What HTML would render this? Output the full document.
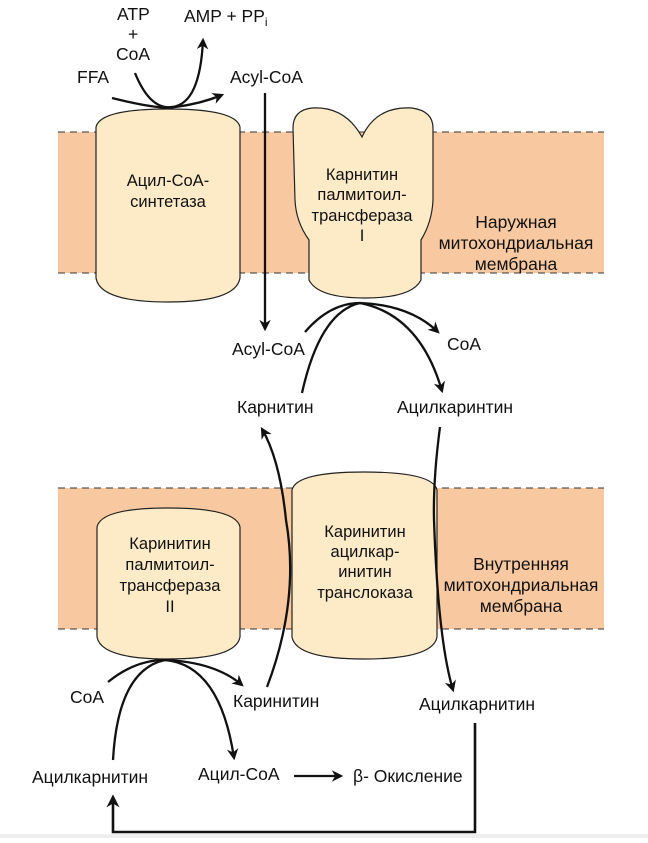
<!DOCTYPE html>
<html><head><meta charset="utf-8"><style>
body{margin:0;background:#fff}
svg text{font-family:"Liberation Sans",sans-serif;font-size:17.5px;fill:#111}
svg text.s{font-size:16.5px}
</style></head><body>
<svg width="648" height="838" viewBox="0 0 648 838" xmlns="http://www.w3.org/2000/svg">
<defs><marker id="a" viewBox="0 0 10 10" refX="8" refY="5" markerWidth="5" markerHeight="5" orient="auto"><path d="M0,0L10,5L0,10L3,5z" fill="#111"/></marker></defs>
<rect x="58" y="132" width="546" height="141" fill="#f8c9a0"/>
<rect x="58" y="488" width="546" height="141" fill="#f8c9a0"/>
<g stroke="#333" stroke-dasharray="7,5" stroke-width="1">
<line x1="58" y1="132" x2="604" y2="132"/><line x1="58" y1="273" x2="604" y2="273"/>
<line x1="58" y1="488" x2="604" y2="488"/><line x1="58" y1="629" x2="604" y2="629"/></g>
<rect x="0" y="834" width="648" height="4" fill="#eee"/>
<g fill="#fdebc8" stroke="#222" stroke-width="1.2">
<path d="M96,127 Q100,109 168,109 Q236,109 240,127 L240,278 Q236,302 168,302 Q100,302 96,278Z"/>
<path d="M293,128 Q293,110 312,108 Q345,106 362,137 Q376,106 412,108 Q433,111 433,128 L433,200 Q432,222 421,240 L421,280 Q412,298 365,298 Q318,298 309,280 L309,240 Q296,222 295,200Z"/>
<path d="M97,527 Q101,508 168,508 Q236,508 240,527 L240,637 Q236,659 168,659 Q101,659 97,637Z"/>
<path d="M292,490 Q296,472 364,472 Q433,472 437,490 L437,637 Q433,659 364,659 Q296,659 292,637Z"/>
</g>
<g fill="none" stroke="#111" stroke-width="2.3">
<path d="M112,98 Q160,110 175,107 Q200,104 222,95" marker-end="url(#a)"/>
<path d="M135,73 Q150,110 172,107 Q200,104 203,40" marker-end="url(#a)"/>
<path d="M265,93 L265,329" marker-end="url(#a)"/>
<path d="M305,332 Q330,303 360,303 Q410,305 438,332" marker-end="url(#a)"/>
<path d="M302,393 Q320,312 360,303 Q420,315 442,391" marker-end="url(#a)"/>
<path d="M267,687 Q300,600 286,520 Q280,460 262,429" marker-end="url(#a)"/>
<path d="M440,427 Q433,480 434,520 Q438,640 453,690" marker-end="url(#a)"/>
<path d="M108,682 Q135,660 165,660 Q215,662 242,685" marker-end="url(#a)"/>
<path d="M113,760 Q118,670 165,660 Q220,665 234,758" marker-end="url(#a)"/>
<path d="M294,776 L341,776" marker-end="url(#a)"/>
<path d="M475,723 L475,832 L113,832 L113,797" marker-end="url(#a)" stroke-width="2.6"/>
</g>
<text x="117" y="20">ATP</text><text x="128" y="40">+</text><text x="116" y="60">CoA</text>
<text x="184" y="22">AMP + PP<tspan font-size="12" dy="4">i</tspan></text>
<text x="77" y="83">FFA</text><text x="230" y="83">Acyl-CoA</text>
<text class="s" x="168" y="186" text-anchor="middle">Ацил-CoA-</text><text class="s" x="168" y="207" text-anchor="middle">синтетаза</text>
<text class="s" x="362" y="180" text-anchor="middle">Карнитин</text><text class="s" x="362" y="200" text-anchor="middle">палмитоил-</text><text class="s" x="362" y="221" text-anchor="middle">трансфераза</text><text class="s" x="362" y="241" text-anchor="middle">I</text>
<text x="516" y="228" text-anchor="middle">Наружная</text><text x="516" y="249" text-anchor="middle">митохондриальная</text><text x="516" y="270" text-anchor="middle">мембрана</text>
<text x="232" y="355">Acyl-CoA</text><text x="447" y="350">CoA</text>
<text x="237" y="413">Карнитин</text><text x="397" y="413">Ацилкаринтин</text>
<text class="s" x="170" y="549" text-anchor="middle">Каринитин</text><text class="s" x="170" y="570" text-anchor="middle">палмитоил-</text><text class="s" x="170" y="591" text-anchor="middle">трансфераза</text><text class="s" x="170" y="612" text-anchor="middle">II</text>
<text class="s" x="365" y="537" text-anchor="middle">Каринитин</text><text class="s" x="365" y="557" text-anchor="middle">ацилкар-</text><text class="s" x="365" y="577" text-anchor="middle">инитин</text><text class="s" x="365" y="598" text-anchor="middle">транслоказа</text>
<text x="521" y="570" text-anchor="middle">Внутренняя</text><text x="521" y="591" text-anchor="middle">митохондриальная</text><text x="521" y="612" text-anchor="middle">мембрана</text>
<text x="70" y="703">CoA</text><text x="233" y="707">Каринитин</text><text x="419" y="710">Ацилкарнитин</text>
<text x="32" y="783">Ацилкарнитин</text><text x="198" y="780">Ацил-CoA</text><text x="353" y="782">β- Окисление</text>
</svg>
</body></html>
